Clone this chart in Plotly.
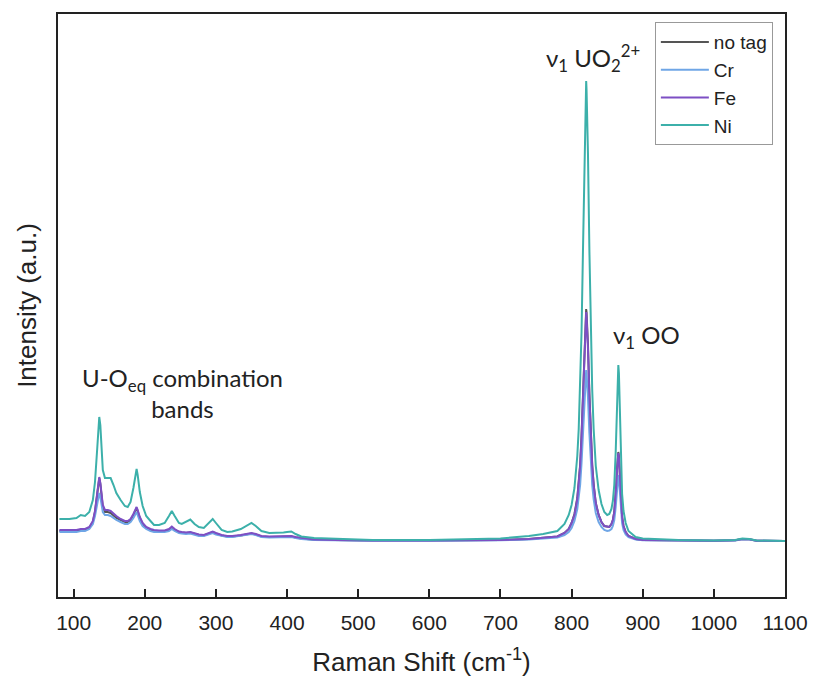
import plotly.graph_objects as go

raman_shift = [
    80, 94, 104, 110, 116, 122, 127, 130, 133, 135, 136, 137.5, 139, 141, 144, 148, 152, 156, 160, 166,
    172, 176, 180, 184, 187, 188.5, 190, 193, 197, 202, 208, 213, 220, 228, 234, 238, 242, 248, 252, 258,
    264, 270, 276, 283, 290, 295.5, 300, 308, 316, 323, 335, 344, 350, 356, 364, 375, 385, 395, 400, 406,
    412, 420, 438, 470, 520, 600, 650, 700, 740, 760, 780, 790, 796, 800, 804, 808, 810, 812, 814, 816,
    818, 819, 820, 820.5, 821, 822, 823, 825, 827, 829, 831, 834, 838, 842, 846, 850, 853, 856, 858, 860,
    862, 863, 864, 865, 865.7, 866.5, 867.5, 869, 871, 873, 876, 880, 890, 900, 950, 1000, 1030, 1040, 1050, 1060,
    1100,
]

no_tag = [
    10, 10, 10, 11, 11, 13, 19, 29, 46, 59, 63, 57, 44, 34, 29, 29, 28, 25, 23, 21,
    19, 19, 21, 26, 31, 33, 30, 23, 17, 13, 11, 10, 10, 10, 11, 13.5, 11, 9, 8.5, 8,
    8.5, 7, 6, 5.5, 7.5, 9, 7.5, 5.5, 4.5, 4.5, 5.5, 7, 7.5, 6.5, 4.5, 4, 4, 4, 4.5, 4.5,
    3.5, 2.5, 1.2, 0.8, 0.4, 0.4, 0.4, 0.9, 2, 3, 4.5, 8, 12, 18, 27, 43, 57, 76, 106, 148,
    197, 217, 229, 232, 229, 217, 197, 148, 106, 76, 57, 38, 26, 19, 15, 14, 14, 17, 21, 29,
    46, 59, 74, 86, 89, 85, 71, 42, 24, 15, 9, 5, 2, 1, 0.4, 0.3, 0.7, 1.9, 1.7, 0.3,
    0,
]

cr = [
    9, 9, 9, 10, 10, 12, 17, 25, 38, 46, 48, 44, 35, 29, 26, 26, 25, 23, 21, 19,
    17, 17, 19, 23, 27, 29, 26, 20, 15, 12, 10, 9, 9, 9, 10, 12, 10, 8, 7.5, 7,
    7.5, 6, 5, 5, 6.5, 8, 6.5, 5, 4, 4, 5, 6, 7, 6, 4, 3.5, 3.5, 3.5, 4, 4,
    3, 2, 1, 0.5, 0.3, 0.3, 0.3, 0.8, 1.5, 2.5, 3.5, 6, 9, 13, 20, 32, 42, 56, 78, 108,
    144, 159, 168, 171, 168, 159, 144, 108, 78, 56, 42, 28, 19, 14, 11, 10, 10.5, 12, 15, 21,
    34, 43, 54, 64, 66, 63, 52, 31, 18, 11, 6.5, 4, 1.5, 0.8, 0.3, 0.2, 0.6, 1.8, 1.6, 0.2,
    0,
]

fe = [
    11, 11, 11, 12, 12, 14, 20, 30, 47, 60, 64, 58, 45, 36, 31, 31, 30, 27, 25, 22,
    20, 20, 22, 27, 32, 34, 31, 24, 18, 14, 12, 11, 10.5, 10.5, 12, 14.5, 12, 9.5, 9, 8.5,
    9, 7.5, 6.5, 6, 8, 9.5, 8, 6, 5, 5, 6, 7.5, 8, 7, 5, 4.5, 4.5, 4.5, 5, 5,
    4, 3, 1.5, 1, 0.5, 0.5, 0.5, 1, 2, 3, 4.5, 8, 12, 18, 26, 42, 56, 75, 104, 145,
    193, 213, 225, 229, 225, 213, 193, 145, 104, 75, 56, 38, 26, 19, 15, 14, 14, 17, 21, 29,
    45, 58, 73, 85, 88, 84, 70, 42, 24, 15, 9, 5, 2, 1, 0.5, 0.3, 0.8, 2, 1.8, 0.3,
    0,
]

ni = [
    22, 22, 23, 26, 25, 29, 41, 59, 91, 116, 124, 116, 91, 71, 63, 63, 63, 56, 48, 41,
    35, 34, 39, 53, 69, 72, 66, 49, 35, 25, 20, 16, 16, 18, 25, 30, 25, 18, 17, 19,
    21.5, 17, 14, 13, 18, 22, 18, 11, 9, 9.5, 12, 16, 18, 15, 10, 8, 8, 8.5, 9, 9.5,
    7, 4.5, 3, 2, 1, 1, 1.5, 2.5, 5, 7, 10, 17, 26, 36, 53, 85, 112, 151, 209, 291,
    388, 428, 452, 460, 452, 428, 388, 291, 209, 151, 112, 75, 51, 37, 29, 26, 27, 32, 40, 56,
    89, 114, 144, 170, 176, 168, 140, 83, 47, 30, 18, 10, 4, 2.5, 1, 0.5, 1, 2.5, 2, 0.5,
    0,
]

series_names = ["no tag", "Cr", "Fe", "Ni"]
series_values = [no_tag, cr, fe, ni]
series_colors = ["#555555", "#6fa6e6", "#7d4fc4", "#3cb0aa"]

x_ticks = [100, 200, 300, 400, 500, 600, 700, 800, 900, 1000, 1100]

fig = go.Figure()
for name, vals, col in zip(series_names, series_values, series_colors):
    fig.add_trace(go.Scatter(x=raman_shift, y=vals, mode="lines", name=name,
                             line=dict(color=col, width=2)))

ann_font = dict(family="Lato, Open Sans, sans-serif", size=24, color="#222222")
fig.add_annotation(x=830, y=463, xref="x", yref="y", text="ν<sub>1</sub> UO<sub>2</sub><sup>2+</sup>",
                   showarrow=False, yanchor="bottom", font=ann_font)
fig.add_annotation(x=856, y=186, xref="x", yref="y", text="ν<sub>1</sub> OO",
                   showarrow=False, xanchor="left", yanchor="bottom", font=ann_font)
fig.add_annotation(x=253, y=116, xref="x", yref="y", text="U-O<sub>eq</sub> combination<br>bands",
                   showarrow=False, align="center", yanchor="bottom", font=ann_font)

fig.update_layout(
    width=814, height=686,
    margin=dict(l=58, r=29, t=14, b=89, autoexpand=False),
    paper_bgcolor="white", plot_bgcolor="white",
    font=dict(family="Arial, Liberation Sans, sans-serif", color="#222222"),
    showlegend=True,
    legend=dict(x=0.821, y=0.986, xanchor="left", yanchor="top",
                bordercolor="#999999", borderwidth=1, bgcolor="white",
                itemwidth=48, tracegroupgap=0,
                font=dict(size=19, family="Arial, Liberation Sans, sans-serif")),
    xaxis=dict(range=[78, 1100], tickmode="array", tickvals=x_ticks,
               ticks="inside", ticklen=8, tickwidth=1.5, tickcolor="#222222",
               ticklabelstandoff=6, automargin=False,
               showline=True, linecolor="#222222", linewidth=2, mirror=True,
               showgrid=False, zeroline=False,
               tickfont=dict(size=21),
               title=dict(text="Raman Shift (cm<sup>-1</sup>)", font=dict(size=26), standoff=20)),
    yaxis=dict(range=[-56, 527], showticklabels=False, ticks="", automargin=False,
               showline=True, linecolor="#222222", linewidth=2, mirror=True,
               showgrid=False, zeroline=False,
               title=dict(text="Intensity (a.u.)", font=dict(size=26), standoff=12)),
)

fig.write_html("out.html")
